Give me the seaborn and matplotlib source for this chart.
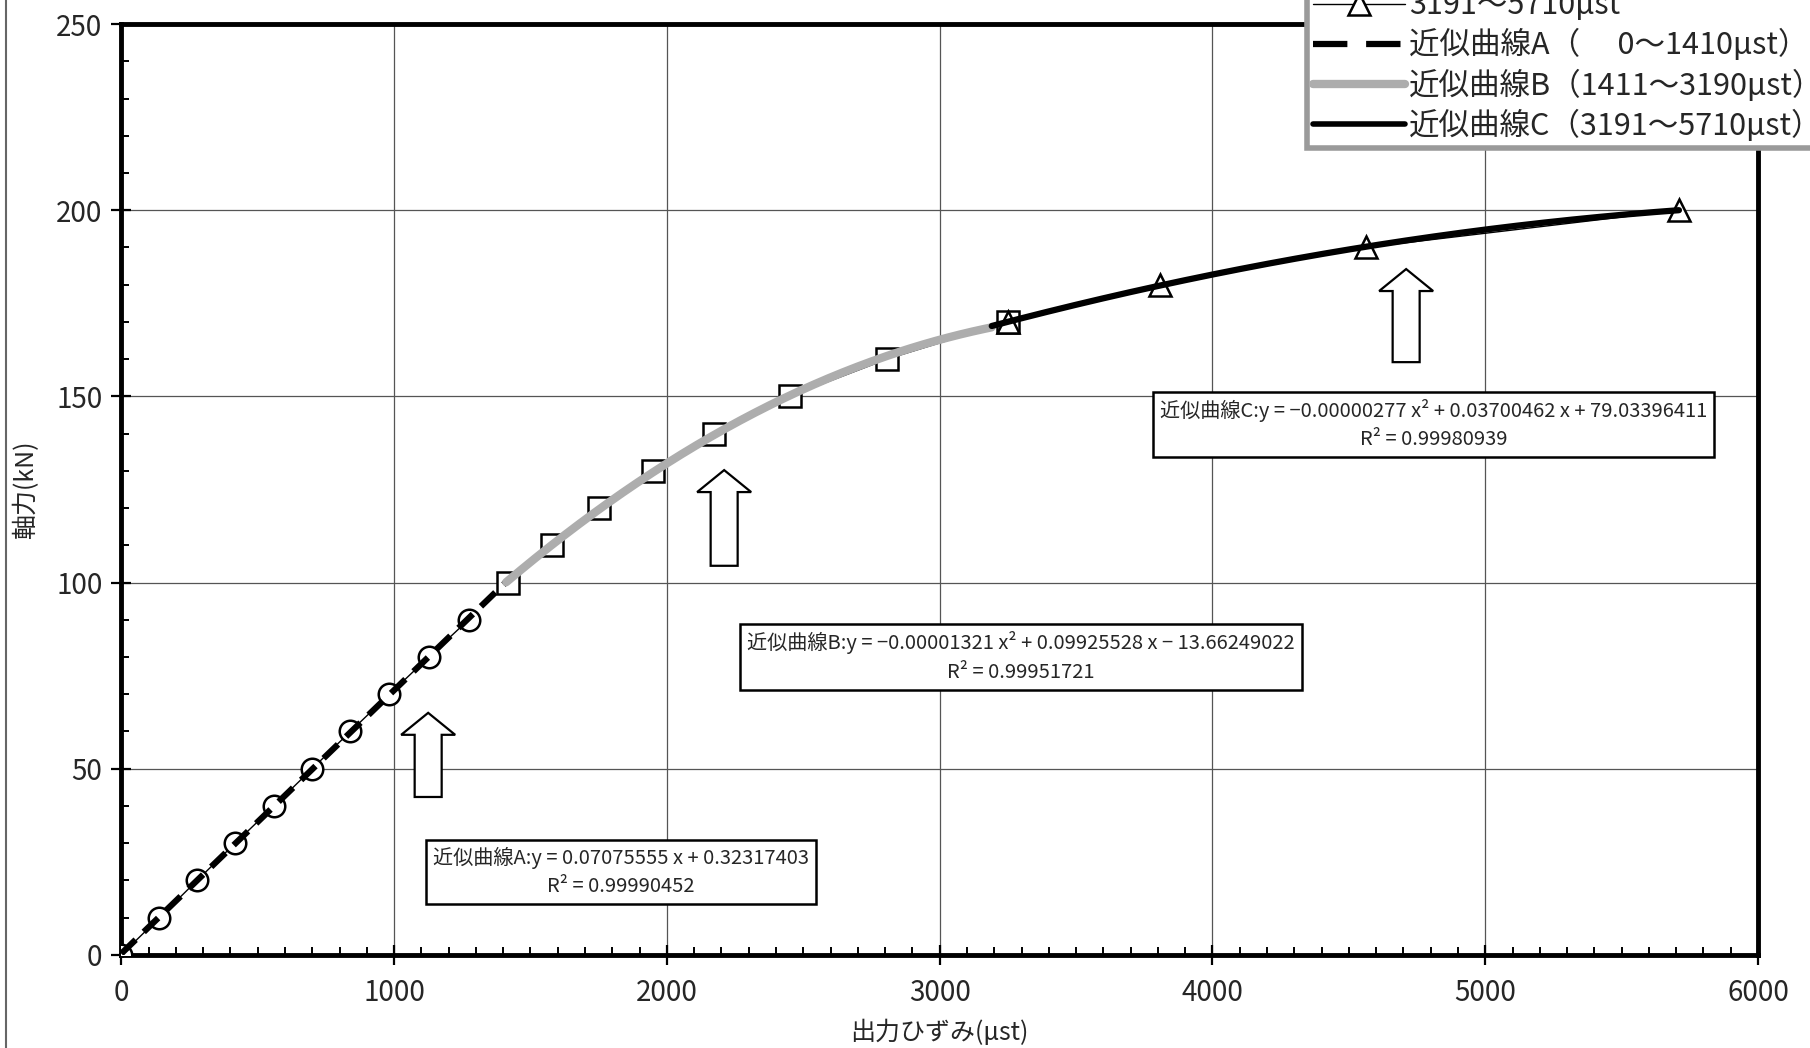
import numpy as np
import matplotlib
matplotlib.use("Agg")
import matplotlib.pyplot as plt
from matplotlib.lines import Line2D
from matplotlib.patches import FancyArrow
from matplotlib.ticker import MultipleLocator
import seaborn as sns

# ---------------- data ----------------
x_circle = [0, 140, 278, 418, 560, 700, 840, 983, 1127, 1273]
y_circle = [0, 10, 20, 30, 40, 50, 60, 70, 80, 90]
x_square = [1418, 1578, 1752, 1951, 2171, 2450, 2806, 3250]
y_square = [100, 110, 120, 130, 140, 150, 160, 170]
x_tri = [3250, 3809, 4562, 5709]
y_tri = [170, 180, 190, 200]

series_labels = ["0～1410μst", "1411～3190μst", "3191～5710μst"]
fit_labels = ["近似曲線A（　 0～1410μst）", "近似曲線B（1411～3190μst）", "近似曲線C（3191～5710μst）"]

# trend-line coefficients shown on the chart (highest power first) and ranges
coef_A = [0.07075555, 0.32317403]
coef_B = [-0.00001321, 0.09925528, -13.66249022]
coef_C = [-0.00000277, 0.03700462, 79.03396411]
range_A = [0, 1410]
range_B = [1411, 3190]
range_C = [3191, 5710]

eq_texts = [
    "近似曲線A:y = 0.07075555 x + 0.32317403\nR² = 0.99990452",
    "近似曲線B:y = −0.00001321 x² + 0.09925528 x − 13.66249022\nR² = 0.99951721",
    "近似曲線C:y = −0.00000277 x² + 0.03700462 x + 79.03396411\nR² = 0.99980939",
]
eq_x = [1832, 3299, 4810]
eq_y = [22.3, 80.0, 142.5]

arrow_x = [1125, 2210, 4710]
arrow_y0 = [42.4, 104.5, 159.2]
arrow_y1 = [65.0, 130.2, 184.2]

x_ticks = [0, 1000, 2000, 3000, 4000, 5000, 6000]
y_ticks = [0, 50, 100, 150, 200, 250]

xlabel = "出力ひずみ(μst)"
ylabel = "軸力(kN)"

# ---------------- style ----------------
sns.set_style("white")
plt.rcParams['font.family'] = ['Noto Sans CJK JP', 'DejaVu Sans']
plt.rcParams['axes.unicode_minus'] = True

fig = plt.figure(figsize=(18.1, 10.48), dpi=100)
ax = fig.add_axes([0.0670, 0.0889, 0.9043, 0.8881])

DASH = (0, (3.2, 1.8))
GRAY = '#adadad'

# data series (markers + thin connecting line)
mk = dict(markersize=15.5, markerfacecolor='white', markeredgecolor='black', markeredgewidth=1.8)
sns.lineplot(x=x_circle, y=y_circle, ax=ax, color='black', lw=1, marker='o', sort=False, zorder=3, **mk)
sns.lineplot(x=x_square, y=y_square, ax=ax, color='black', lw=1, marker='s', sort=False, zorder=3, **mk)
sns.lineplot(x=x_tri, y=y_tri, ax=ax, color='black', lw=1, marker='^', sort=False, zorder=3, **mk)

# trend lines
xa = np.linspace(range_A[0], range_A[1], 200)
xb = np.linspace(range_B[0], range_B[1], 200)
xc = np.linspace(range_C[0], range_C[1], 200)
sns.lineplot(x=xa, y=np.polyval(coef_A, xa), ax=ax, color='black', lw=4.5,
             linestyle=DASH, sort=False, zorder=4)
sns.lineplot(x=xb, y=np.polyval(coef_B, xb), ax=ax, color=GRAY, lw=6, sort=False, zorder=4)
sns.lineplot(x=xc, y=np.polyval(coef_C, xc), ax=ax, color='black', lw=4.5, sort=False, zorder=4)

# axes
ax.set_xlim(0, 6000)
ax.set_ylim(0, 250)
ax.set_xticks(x_ticks)
ax.set_yticks(y_ticks)
ax.xaxis.set_minor_locator(MultipleLocator(100))
ax.yaxis.set_minor_locator(MultipleLocator(10))
ax.tick_params(which='major', direction='inout', length=15, width=1.6, labelsize=20, color='black')
ax.tick_params(axis='x', which='major', pad=9)
ax.tick_params(axis='y', which='major', pad=6)
ax.tick_params(which='minor', direction='in', length=6, width=1.4, color='black')
ax.tick_params(which='both', bottom=True, left=True, top=False, right=False)
ax.grid(True, which='major', color='#555555', lw=0.9)
for s in ax.spines.values():
    s.set_linewidth(3.5)
    s.set_color('black')
    s.set_visible(True)

ax.set_xlabel(xlabel, fontsize=18)
ax.set_ylabel(ylabel, fontsize=18)
ax.xaxis.set_label_coords(0.5, -0.070)
ax.yaxis.set_label_coords(-0.050, 0.5)

# equation boxes
for t, xx, yy in zip(eq_texts, eq_x, eq_y):
    ax.text(xx, yy, t, ha='center', va='center', multialignment='center', fontsize=14.5,
            linespacing=1.45, zorder=6,
            bbox=dict(boxstyle='square,pad=0.35', fc='white', ec='black', lw=1.8))

# block arrows
for xx, y0, y1 in zip(arrow_x, arrow_y0, arrow_y1):
    ax.add_patch(FancyArrow(xx, y0, 0, y1 - y0, width=99, head_width=198, head_length=5.9,
                            length_includes_head=True, fc='white', ec='black', lw=1.6, zorder=5))

# legend
mk_h = dict(markersize=15.5, markerfacecolor='white', markeredgecolor='black', markeredgewidth=1.8)
handles = [
    Line2D([], [], color='black', lw=1, marker='o', **mk_h),
    Line2D([], [], color='black', lw=1, marker='s', **mk_h),
    Line2D([], [], color='black', lw=1, marker='^', **mk_h),
    Line2D([], [], color='black', lw=4.5, linestyle=(0, (5.5, 3))),
    Line2D([], [], color=GRAY, lw=6),
    Line2D([], [], color='black', lw=4),
]
labels = series_labels + fit_labels
leg = ax.legend(handles, labels, loc='lower left', bbox_to_anchor=(0.722, 0.859),
                bbox_transform=fig.transFigure, fontsize=22, frameon=True, fancybox=False,
                framealpha=1.0, handlelength=3.0, handletextpad=0.15, borderpad=0.2,
                labelspacing=0.26, borderaxespad=0)
leg.get_frame().set_edgecolor('#9a9a9a')
leg.get_frame().set_linewidth(4)
leg.get_frame().set_facecolor('white')
leg.set_zorder(10)

# outer chart frame (left edge visible)
fig.add_artist(Line2D([0.0035, 0.0035], [0, 1], transform=fig.transFigure, color='#666666', lw=1.5))

fig.savefig("out.png", dpi=100)
